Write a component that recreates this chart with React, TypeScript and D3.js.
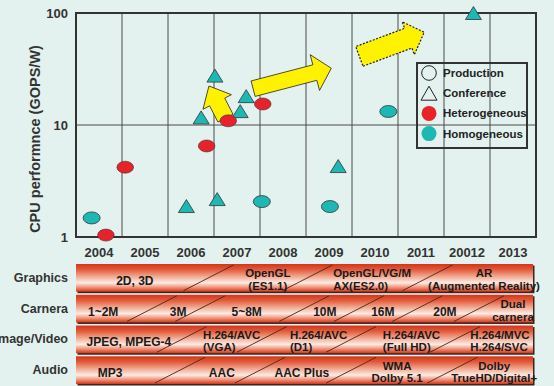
import React from "react";
import * as d3 from "d3";

const W = 554;
const H = 386;
const BG = "#e3f2ee";
const TEAL = "#1cb8b3";
const RED = "#e8222a";
const YELLOW = "#fff200";
const FONT = "'Liberation Sans', Arial, sans-serif";

// x axis categories (years), note the "20012" typo in the source
const years = [2004, 2005, 2006, 2007, 2008, 2009, 2010, 2011, 2012, 2013];
const yearLabels = ["2004", "2005", "2006", "2007", "2008", "2009", "2010", "2011", "20012", "2013"];
const yTicks = [1, 10, 100];

// [year, GOPS/W]
const heteroProduction = [
  [2004.15, 1.04],
  [2004.57, 4.2],
  [2006.34, 6.5],
  [2006.81, 10.9],
  [2007.56, 15.4],
];
const homoProduction = [
  [2003.84, 1.48],
  [2007.54, 2.07],
  [2009.02, 1.87],
  [2010.29, 13.2],
];
const homoConference = [
  [2005.9, 1.89],
  [2006.22, 11.7],
  [2006.52, 27.6],
  [2006.57, 2.18],
  [2007.07, 13.3],
  [2007.2, 18.1],
  [2009.2, 4.3],
  [2012.14, 100],
];

// trend arrows: [tailYear, tailValue, tipYear, tipValue]
const trendArrows = [
  [2006.75, 11.5, 2006.39, 22.3],
  [2007.35, 21.1, 2009.05, 32.1],
  [2009.66, 41.0, 2011.07, 67.3],
];

const legendItems = ["Production", "Conference", "Heterogeneous", "Homogeneous"];

// roadmap table
const rowNames = ["Graphics", "Carnera", "Image/Video", "Audio"];
const rowSeparators = [
  [2006.38, 2008.53, 2011.14],
  [2005.15, 2006.2, 2008.46, 2009.65, 2010.92, 2012.26],
  [2005.8, 2007.54, 2009.48, 2011.74],
  [2005.76, 2007.5, 2009.48, 2011.68],
];
// [year, align, ...lines]
const rowCells: (string | number)[][][] = [
  [
    [2004.78, "middle", "2D, 3D"],
    [2007.67, "middle", "OpenGL", "(ES1.1)"],
    [2009.09, "start", "OpenGL/VG/M", "AX(ES2.0)"],
    [2012.37, "middle", "AR", "(Augmented Reality)"],
  ],
  [
    [2004.09, "middle", "1~2M"],
    [2005.72, "middle", "3M"],
    [2007.21, "middle", "5~8M"],
    [2008.91, "middle", "10M"],
    [2010.17, "middle", "16M"],
    [2011.52, "middle", "20M"],
    [2013.0, "middle", "Dual", "carnera"],
  ],
  [
    [2004.65, "middle", "JPEG, MPEG-4"],
    [2006.26, "start", "H.264/AVC", "(VGA)"],
    [2008.15, "start", "H.264/AVC", "(D1)"],
    [2010.17, "start", "H.264/AVC", "(Full HD)"],
    [2012.07, "start", "H.264/MVC", "H.264/SVC"],
  ],
  [
    [2004.24, "middle", "MP3"],
    [2006.67, "middle", "AAC"],
    [2008.41, "middle", "AAC Plus"],
    [2010.48, "middle", "WMA", "Dolby 5.1"],
    [2012.59, "middle", "Dolby", "TrueHD/Digital+"],
  ],
];

const plot = { left: 76, right: 536, top: 13, bottom: 237 };

const x = d3.scaleLinear().domain([2003.5, 2013.5]).range([plot.left, plot.right]);
const y = d3.scaleLog().domain([1, 100]).range([plot.bottom, plot.top]);
const rowY = d3.scaleBand().domain(rowNames).range([264, 384]).paddingInner(0.1);
const tableRight = 533;

function arrowPoints(a: number[], w: number, hw: number, hl: number) {
  const x0 = x(a[0]), y0 = y(a[1]), x1 = x(a[2]), y1 = y(a[3]);
  const L = Math.hypot(x1 - x0, y1 - y0);
  const ux = (x1 - x0) / L, uy = (y1 - y0) / L;
  const nx = -uy, ny = ux;
  const bx = x1 - ux * hl, by = y1 - uy * hl;
  const pts = [
    [x0 + nx * w / 2, y0 + ny * w / 2],
    [bx + nx * w / 2, by + ny * w / 2],
    [bx + nx * hw / 2, by + ny * hw / 2],
    [x1, y1],
    [bx - nx * hw / 2, by - ny * hw / 2],
    [bx - nx * w / 2, by - ny * w / 2],
    [x0 - nx * w / 2, y0 - ny * w / 2],
  ];
  return pts.map(p => p.join(",")).join(" ");
}

const triangle = (cx: number, cy: number, w: number, h: number) =>
  `${cx},${cy - h / 2} ${cx + w / 2},${cy + h / 2} ${cx - w / 2},${cy + h / 2}`;

const arrowSizes = [
  [17, 32, 18],
  [16, 37, 17],
  [21, 35, 17],
];

export default function App() {
  return (
    <svg width={W} height={H} style={{ position: "absolute", left: 0, top: 0, fontFamily: FONT }}>
      <defs>
        <linearGradient id="bar" x1="0" y1="0" x2="0" y2="1">
          <stop offset="0" stopColor="#d3341a" />
          <stop offset="0.2" stopColor="#e25a3a" />
          <stop offset="0.45" stopColor="#f1a890" />
          <stop offset="0.68" stopColor="#fcebe4" />
          <stop offset="0.85" stopColor="#ef8f74" />
          <stop offset="1" stopColor="#d4351a" />
        </linearGradient>
      </defs>
      <rect width={W} height={H} fill={BG} />

      {/* grid */}
      {years.slice(0, -1).map(yr => (
        <line key={yr} x1={x(yr + 0.5)} x2={x(yr + 0.5)} y1={plot.top} y2={plot.bottom} stroke="#4a4a4a" strokeWidth={1} />
      ))}
      <line x1={plot.left} x2={plot.right} y1={y(10)} y2={y(10)} stroke="#4a4a4a" strokeWidth={1} />
      <rect x={plot.left} y={plot.top} width={plot.right - plot.left} height={plot.bottom - plot.top}
        fill="none" stroke="#333" strokeWidth={2} />

      {/* y ticks */}
      {yTicks.map(t => (
        <text key={t} x={plot.left - 8} y={y(t)} textAnchor="end" dominantBaseline="central"
          fontSize={13} fontWeight="bold" fill="#333">{t}</text>
      ))}
      <text transform={`translate(40,139) rotate(-90)`} textAnchor="middle" fontSize={14.5}
        fontWeight="bold" fill="#333">CPU performnce (GOPS/W)</text>

      {/* x labels */}
      {years.map((yr, i) => (
        <text key={yr} x={x(yr)} y={252} textAnchor="middle" dominantBaseline="central"
          fontSize={13} fontWeight="bold" fill="#333">{yearLabels[i]}</text>
      ))}

      {/* arrows */}
      {trendArrows.map((a, i) => (
        <polygon key={i} points={arrowPoints(a, arrowSizes[i][0], arrowSizes[i][1], arrowSizes[i][2])}
          fill={YELLOW} stroke="#222" strokeWidth={i === 2 ? 1.2 : 0.8}
          strokeDasharray={i === 2 ? "2,1.5" : undefined} strokeLinejoin="miter" />
      ))}

      {/* points */}
      {homoConference.map((d, i) => (
        <polygon key={"tc" + i} points={triangle(x(d[0]), y(d[1]), 16, 13)} fill={TEAL} stroke="#333" strokeWidth={0.8} />
      ))}
      {homoProduction.map((d, i) => (
        <ellipse key={"hp" + i} cx={x(d[0])} cy={y(d[1])} rx={8.5} ry={6} fill={TEAL} stroke="#333" strokeWidth={0.8} />
      ))}
      {heteroProduction.map((d, i) => (
        <ellipse key={"rp" + i} cx={x(d[0])} cy={y(d[1])} rx={8.3} ry={6} fill={RED} stroke="#333" strokeWidth={0.6} />
      ))}

      {/* legend */}
      <rect x={417} y={63} width={110} height={85} fill="none" stroke="#333" strokeWidth={2} />
      {legendItems.map((name, i) => {
        const cy = 73 + i * 20.2;
        const cx = 429;
        let marker;
        if (i === 0) marker = <circle cx={cx} cy={cy} r={7.3} fill="none" stroke="#222" strokeWidth={1} />;
        else if (i === 1) marker = <polygon points={triangle(cx, cy, 16, 14)} fill="none" stroke="#222" strokeWidth={1} />;
        else marker = <circle cx={cx} cy={cy} r={7.5} fill={i === 2 ? RED : TEAL} />;
        return (
          <g key={name}>
            {marker}
            <text x={443} y={cy} dominantBaseline="central" fontSize={11.5} fontWeight="bold" fill="#222">{name}</text>
          </g>
        );
      })}

      {/* roadmap table */}
      {rowNames.map((row, r) => {
        const top = rowY(row)!;
        const bh = rowY.bandwidth();
        const mid = top + bh / 2;
        return (
          <g key={row}>
            <text x={68} y={mid} textAnchor="end" dominantBaseline="central" fontSize={12.5}
              fontWeight="bold" fill="#333">{row}</text>
            <rect x={plot.left + 1.5} y={top + 1.5} width={tableRight - plot.left} height={bh} fill="#3a2620" />
            <rect x={plot.left} y={top} width={tableRight - plot.left} height={bh} fill="url(#bar)" />
            {rowSeparators[r].map((s, i) => (
              <line key={i} x1={x(s) - 25} y1={top + bh - 1} x2={x(s) + 25} y2={top + 1}
                stroke="#4a2418" strokeWidth={0.9} />
            ))}
            {rowCells[r].map((c, i) => {
              const lines = c.slice(2) as string[];
              const anchor = c[1] as string;
              const fs = lines.length === 1 ? 12 : 11.5;
              return (
                <text key={i} x={x(c[0] as number)} textAnchor={anchor} fontSize={fs} fontWeight="bold" fill="#1a1a1a">
                  {lines.map((ln, j) => (
                    <tspan key={j} x={x(c[0] as number)}
                      y={lines.length === 1 ? mid + 3 : mid - 4.5 + j * 12.5}
                      dominantBaseline="central">{ln}</tspan>
                  ))}
                </text>
              );
            })}
          </g>
        );
      })}
    </svg>
  );
}
